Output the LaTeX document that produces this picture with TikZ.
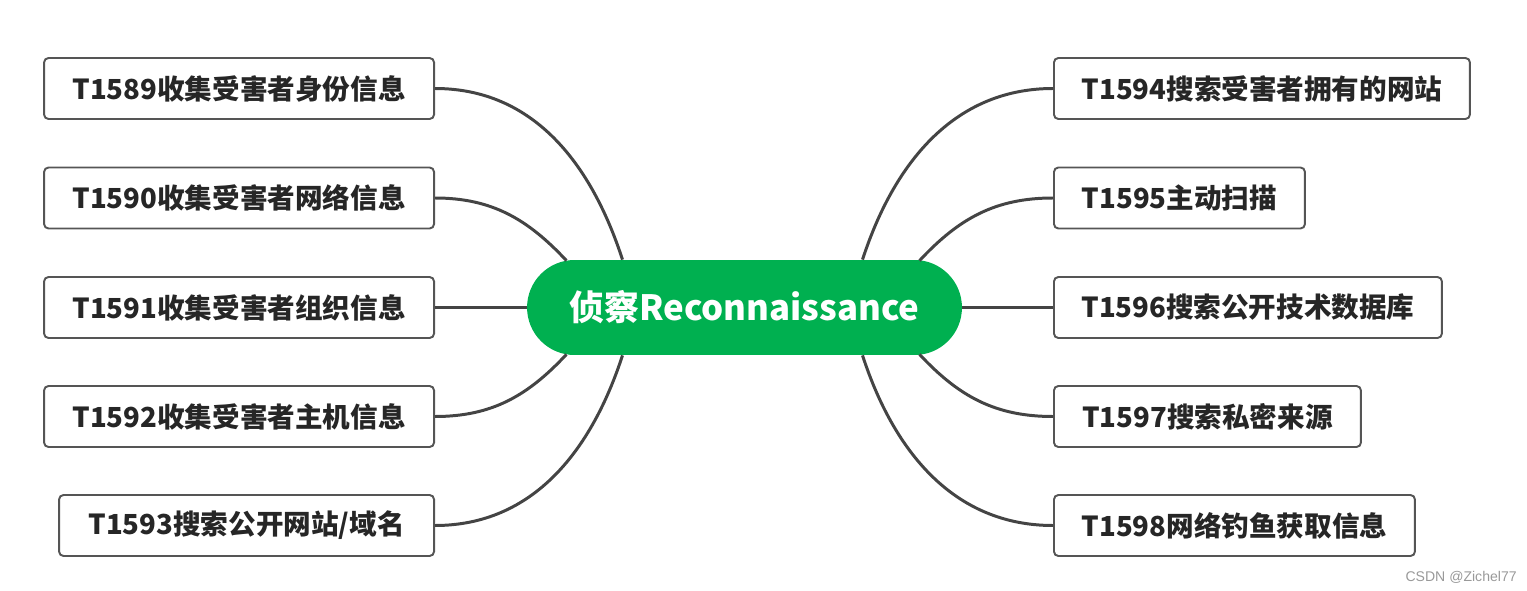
\documentclass[tikz,border=0pt]{standalone}
\usepackage{fontspec}
\newfontfamily\cjk{Noto Sans CJK SC}
\newfontfamily\wmfont{Liberation Sans}
\usetikzlibrary{calc}
\definecolor{reconGreen}{HTML}{00B050}
\definecolor{linkGray}{HTML}{444444}
\definecolor{boxGray}{HTML}{555555}

\begin{document}
\begin{tikzpicture}[x=0.02cm, y=0.02cm,
  tech/.style={draw=boxGray, line width=1.1pt, rounded corners=2.5pt, fill=white,
    minimum height=1.22cm, inner sep=0pt, text=black!85,
    font=\cjk\bfseries\fontsize{15.7}{18}\selectfont},
  link/.style={draw=linkGray, line width=1.7pt}]

\useasboundingbox (0,0) rectangle (1527,-591);

% centre topic
\node[fill=reconGreen, text=white, minimum width=8.7cm, minimum height=1.9cm,
  rounded corners=0.95cm, inner sep=0pt,
  font=\cjk\bfseries\fontsize{19.8}{24}\selectfont] (recon) at (744.5,-307.5) {侦察Reconnaissance};

% left branch
\begin{scope}
  \node[tech, anchor=east, minimum width=7.8cm] (t1589) at (435, -88.5) {T1589收集受害者身份信息};
  \node[tech, anchor=east, minimum width=7.8cm] (t1590) at (435,-198.0) {T1590收集受害者网络信息};
  \node[tech, anchor=east, minimum width=7.8cm] (t1591) at (435,-307.5) {T1591收集受害者组织信息};
  \node[tech, anchor=east, minimum width=7.8cm] (t1592) at (435,-416.5) {T1592收集受害者主机信息};
  \node[tech, anchor=east, minimum width=7.5cm] (t1593) at (435,-525.5) {T1593搜索公开网站/域名};

  \coordinate (l1) at ($(recon.north)+(-122,0)$);
  \coordinate (l2) at ($(recon.north)+(-178,-1)$);
  \coordinate (l4) at ($(recon.south)+(-178,1)$);
  \coordinate (l5) at ($(recon.south)+(-122,0)$);

  \draw[link] (t1589.east) to[out=0, in=108] (l1);
  \draw[link] (t1590.east) to[out=0, in=133] (l2);
  \draw[link] (t1591.east) -- (recon.west);
  \draw[link] (t1592.east) to[out=0, in=-133] (l4);
  \draw[link] (t1593.east) to[out=0, in=-108] (l5);
\end{scope}

% right branch
\begin{scope}
  \node[tech, anchor=west, minimum width=8.32cm] (t1594) at (1053, -88.5) {T1594搜索受害者拥有的网站};
  \node[tech, anchor=west, minimum width=5.02cm] (t1595) at (1053,-198.0) {T1595主动扫描};
  \node[tech, anchor=west, minimum width=7.76cm] (t1596) at (1053,-307.5) {T1596搜索公开技术数据库};
  \node[tech, anchor=west, minimum width=6.14cm] (t1597) at (1053,-416.5) {T1597搜索私密来源};
  \node[tech, anchor=west, minimum width=7.22cm] (t1598) at (1053,-525.5) {T1598网络钓鱼获取信息};

  \coordinate (r1) at ($(recon.north)+(118,0)$);
  \coordinate (r2) at ($(recon.north)+(175,-1)$);
  \coordinate (r4) at ($(recon.south)+(175,1)$);
  \coordinate (r5) at ($(recon.south)+(118,0)$);

  \draw[link] (t1594.west) to[out=180, in=72] (r1);
  \draw[link] (t1595.west) to[out=180, in=47] (r2);
  \draw[link] (t1596.west) -- (recon.east);
  \draw[link] (t1597.west) to[out=180, in=-47] (r4);
  \draw[link] (t1598.west) to[out=180, in=-72] (r5);
\end{scope}

% watermark
\node[font=\wmfont\fontsize{8}{9}\selectfont, text=black!40, anchor=east, inner sep=0pt]
  (wm) at (1517,-577) {CSDN @Zichel77};

\end{tikzpicture}
\end{document}
